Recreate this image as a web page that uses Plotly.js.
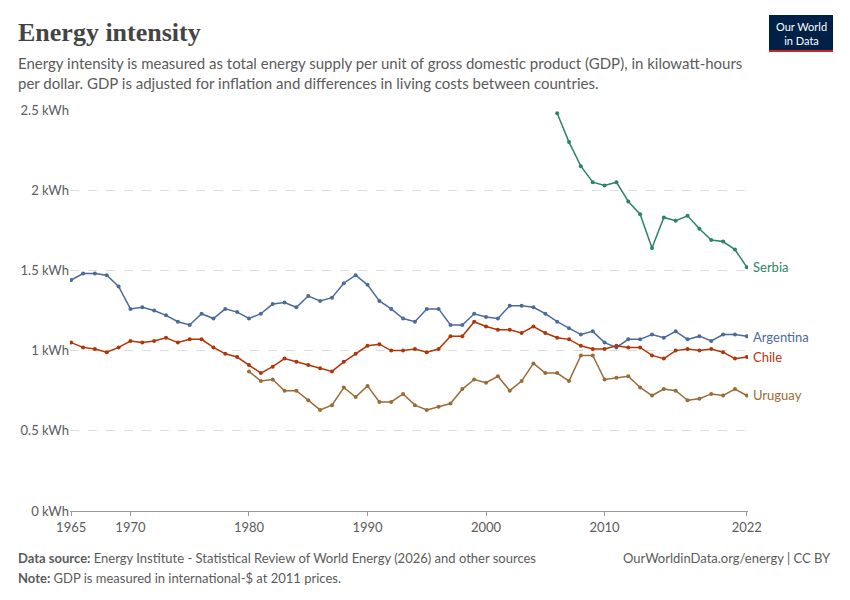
<!DOCTYPE html>
<html><head><meta charset="utf-8">
<script src="https://cdn.plot.ly/plotly-3.0.1.min.js"></script>
<style>body{margin:0;background:#fff}#c{width:850px;height:600px}</style>
</head><body><div id="c"></div>
<script>
const yearsAll = Array.from({length:58},(_,i)=>1965+i);
const argentina = [1.44,1.48,1.48,1.47,1.40,1.26,1.27,1.25,1.22,1.18,1.16,1.23,1.20,1.26,1.24,1.20,1.23,1.29,1.30,1.27,1.34,1.31,1.33,1.42,1.47,1.41,1.31,1.26,1.20,1.18,1.26,1.26,1.16,1.16,1.23,1.21,1.20,1.28,1.28,1.27,1.23,1.18,1.14,1.10,1.12,1.05,1.02,1.07,1.07,1.10,1.08,1.12,1.07,1.09,1.06,1.10,1.10,1.09];
const chile = [1.05,1.02,1.01,0.99,1.02,1.06,1.05,1.06,1.08,1.05,1.07,1.07,1.02,0.98,0.96,0.91,0.86,0.90,0.95,0.93,0.91,0.89,0.87,0.93,0.98,1.03,1.04,1.00,1.00,1.01,0.99,1.01,1.09,1.09,1.18,1.15,1.13,1.13,1.11,1.15,1.11,1.08,1.07,1.03,1.01,1.01,1.03,1.02,1.02,0.97,0.95,1.00,1.01,1.00,1.01,0.99,0.95,0.96];
const yearsUruguay = Array.from({length:43},(_,i)=>1980+i);
const uruguay = [0.87,0.81,0.82,0.75,0.75,0.69,0.63,0.66,0.77,0.71,0.78,0.68,0.68,0.73,0.66,0.63,0.65,0.67,0.76,0.82,0.80,0.84,0.75,0.81,0.92,0.86,0.86,0.81,0.97,0.97,0.82,0.83,0.84,0.77,0.72,0.76,0.75,0.69,0.70,0.73,0.72,0.76,0.72];
const yearsSerbia = Array.from({length:17},(_,i)=>2006+i);
const serbia = [2.48,2.30,2.15,2.05,2.03,2.05,1.93,1.85,1.64,1.83,1.81,1.84,1.76,1.69,1.68,1.63,1.52];
const xTicks = [1965,1970,1980,1990,2000,2010,2022];
const yTicks = [0,0.5,1,1.5,2,2.5];
const yTickLabels = ['0 kWh','0.5 kWh','1 kWh','1.5 kWh','2 kWh','2.5 kWh'];

const series = [
 {name:'Argentina',x:yearsAll,y:argentina,c:'#4c6a9c'},
 {name:'Chile',x:yearsAll,y:chile,c:'#b13507'},
 {name:'Uruguay',x:yearsUruguay,y:uruguay,c:'#9a6b35'},
 {name:'Serbia',x:yearsSerbia,y:serbia,c:'#2c8465'}
];
const labelY = {Argentina:1.085,Chile:0.96,Uruguay:0.725,Serbia:1.52};
const traces = series.map(s=>({x:s.x,y:s.y,type:'scatter',mode:'lines+markers',name:s.name,
  line:{color:s.c,width:1.5},marker:{color:s.c,size:4},hoverinfo:'x+y'}));
const ann = series.map(s=>({x:s.x[s.x.length-1],y:labelY[s.name],xref:'x',yref:'y',text:s.name,showarrow:false,
  xanchor:'left',xshift:4,font:{family:'Lato',size:13,color:s.c}}));
const F='Lato, sans-serif';
ann.push(
 {xref:'paper',yref:'paper',x:0,y:0,xanchor:'left',yanchor:'top',showarrow:false,text:'x',visible:false}
);
const layout = {
 width:850,height:600,margin:{l:70,r:102,t:110,b:89},
 paper_bgcolor:'#fff',plot_bgcolor:'#fff',showlegend:false,
 font:{family:F,color:'#5b5b5b',size:13},
 xaxis:{range:[1964.9,2022.1],tickvals:xTicks,ticktext:xTicks.map(String),showgrid:false,zeroline:false,
   showline:true,linecolor:'#999',ticks:'outside',ticklen:4,tickcolor:'#999',tickfont:{size:13,color:'#5b5b5b'}},
 yaxis:{range:[0,2.5],tickvals:yTicks,ticktext:yTickLabels,showgrid:true,gridcolor:'#dddddd',griddash:'dash',
   zeroline:false,ticks:'',tickfont:{size:13,color:'#5b5b5b'}},
 annotations:ann,
 shapes:[
  {type:'rect',xref:'paper',yref:'paper',x0:0,x1:0,y0:0,y1:0,line:{width:0}},
  {type:'rect',xref:'paper',yref:'paper',x0:(770-70)/678,x1:(833-70)/678,y0:(489+15-(16-110)) /401 ,y1:0,visible:false}
 ]
};
// header/footer as paper annotations via pixel conversion
const pw=678, ph=401;
const px=x=>(x-70)/pw, py=y=>(511-y)/ph;
layout.shapes=[
 {type:'rect',xref:'paper',yref:'paper',x0:px(769),x1:px(833),y0:py(50),y1:py(15),fillcolor:'#002147',line:{width:0}},
 {type:'rect',xref:'paper',yref:'paper',x0:px(769),x1:px(833),y0:py(52),y1:py(50),fillcolor:'#ce261e',line:{width:0}}
];
layout.annotations.push(
 {xref:'paper',yref:'paper',x:px(801),y:py(33),text:'Our World<br>in Data',showarrow:false,font:{family:F,size:11,color:'#fff'},xanchor:'center',yanchor:'middle'},
 {xref:'paper',yref:'paper',x:px(16),y:py(16),text:'<b>Energy intensity</b>',showarrow:false,xanchor:'left',yanchor:'top',font:{family:'Liberation Serif, serif',size:26,color:'#444'}},
 {xref:'paper',yref:'paper',x:px(16),y:py(52),text:'Energy intensity is measured as total energy supply per unit of gross domestic product (GDP), in kilowatt-hours<br>per dollar. GDP is adjusted for inflation and differences in living costs between countries.',showarrow:false,xanchor:'left',yanchor:'top',align:'left',font:{family:F,size:15,color:'#5b5b5b'}},
 {xref:'paper',yref:'paper',x:px(16),y:py(548),text:'<b>Data source:</b> Energy Institute - Statistical Review of World Energy (2026) and other sources',showarrow:false,xanchor:'left',yanchor:'top',font:{family:F,size:13,color:'#5b5b5b'}},
 {xref:'paper',yref:'paper',x:px(16),y:py(568),text:'<b>Note:</b> GDP is measured in international-$ at 2011 prices.',showarrow:false,xanchor:'left',yanchor:'top',font:{family:F,size:13,color:'#5b5b5b'}},
 {xref:'paper',yref:'paper',x:px(833),y:py(548),text:'OurWorldinData.org/energy | CC BY',showarrow:false,xanchor:'right',yanchor:'top',font:{family:F,size:13,color:'#5b5b5b'}}
);
Plotly.newPlot('c',traces,layout,{displayModeBar:false,staticPlot:true});
</script></body></html>
